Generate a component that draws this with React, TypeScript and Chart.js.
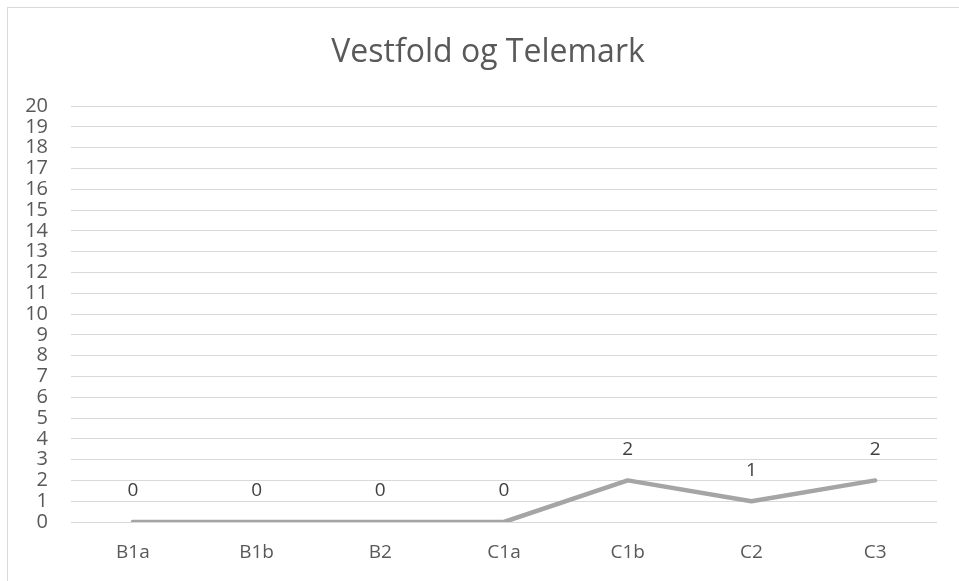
import React, { useEffect, useRef } from "react";
import { Chart, registerables } from "chart.js";

Chart.register(...registerables);

const title = "Vestfold og Telemark";
const categories = ["B1a", "B1b", "B2", "C1a", "C1b", "C2", "C3"];
const values = [0, 0, 0, 0, 2, 1, 2];
const yMin = 0;
const yMax = 20;
const yStep = 1;

const FONT = "'Open Sans', 'Noto Sans', sans-serif";

export default function App() {
  const ref = useRef<HTMLCanvasElement | null>(null);
  useEffect(() => {
    document.body.style.margin = "0";
    const canvas = ref.current!;
    const titlePlugin = {
      id: "customTitle",
      afterDraw(chart: any) {
        const ctx = chart.ctx;
        ctx.save();
        ctx.font = `32px ${FONT}`;
        ctx.fillStyle = "#595959";
        ctx.textAlign = "center";
        ctx.textBaseline = "middle";
        ctx.fillText(title, 488, 53);
        ctx.restore();
      },
    };
    const labelPlugin = {
      id: "dataLabels",
      afterDatasetsDraw(chart: any) {
        const ctx = chart.ctx;
        const meta = chart.getDatasetMeta(0);
        ctx.save();
        ctx.font = `19px ${FONT}`;
        ctx.fillStyle = "#404040";
        ctx.textAlign = "center";
        ctx.textBaseline = "middle";
        meta.data.forEach((pt: any, i: number) => {
          ctx.fillText(String(values[i]), pt.x, pt.y - 31);
        });
        ctx.restore();
      },
    };
    const chart = new Chart(canvas, {
      type: "line",
      data: {
        labels: categories,
        datasets: [
          {
            data: values,
            borderColor: "#a5a5a5",
            backgroundColor: "#a5a5a5",
            borderWidth: 4.5,
            pointRadius: 0,
            tension: 0,
            borderCapStyle: "round",
            borderJoinStyle: "round",
          },
        ],
      },
      options: {
        responsive: false,
        animation: false,
        layout: { padding: { left: 0, top: 106, right: 22, bottom: 0 } },
        plugins: {
          legend: { display: false },
          title: { display: false },
          tooltip: { enabled: false },
        },
        scales: {
          x: {
            offset: true,
            grid: { display: false, drawTicks: false },
            border: { display: false },
            ticks: { color: "#595959", font: { family: FONT, size: 19 }, padding: 19, maxRotation: 0 },
            afterFit: (s: any) => {
              s.height = 59;
            },
          },
          y: {
            min: yMin,
            max: yMax,
            grid: { color: "#d9d9d9", lineWidth: 1, drawTicks: false },
            border: { display: false },
            ticks: {
              stepSize: yStep,
              autoSkip: false,
              color: "#595959",
              font: { family: FONT, size: 20, lineHeight: 1 },
              padding: 23,
            },
            afterFit: (s: any) => {
              s.width = 71;
            },
          },
        },
      },
      plugins: [titlePlugin, labelPlugin],
    });
    return () => chart.destroy();
  }, []);
  return (
    <div style={{ position: "fixed", left: 0, top: 0, width: 959, height: 581, background: "#fff" }}>
      <div
        style={{
          position: "absolute",
          left: 7,
          top: 7,
          right: -2,
          bottom: -2,
          borderTop: "1px solid #d9d9d9",
          borderLeft: "1px solid #d9d9d9",
        }}
      />
      <canvas ref={ref} width={959} height={581} style={{ position: "absolute", left: 0, top: 0 }} />
    </div>
  );
}
